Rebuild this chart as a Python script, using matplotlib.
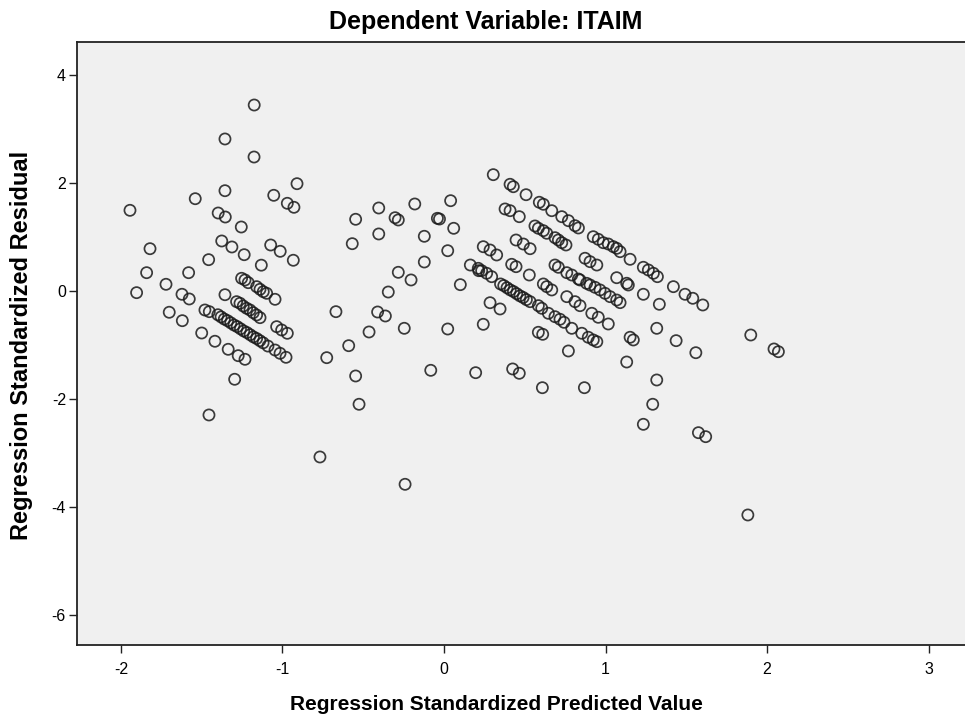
import matplotlib
matplotlib.use("Agg")
import matplotlib.pyplot as plt
import numpy as np

# ---- data (standardized predicted value, standardized residual) ----
left_pred = [-1.175, -1.356, -1.176, -0.910, -1.356, -1.540, -1.054, -0.970, -0.929, -1.944,
             -1.398, -1.354, -1.255, -1.820, -1.376, -1.313, -1.237, -1.457, -1.073, -1.014,
             -0.933, -1.131, -1.841, -1.581, -1.903, -1.721, -1.622, -1.577, -1.356, -1.701,
             -1.620, -1.500, -1.418, -1.336, -1.274, -1.232, -1.296, -1.455,
             -1.253, -1.232, -1.212, -1.160, -1.139, -1.119, -1.098, -1.046,
             -1.284, -1.263, -1.243, -1.222, -1.201, -1.181, -1.160, -1.139, -1.036, -1.005, -0.970,
             -1.480, -1.453, -1.40, -1.38, -1.36, -1.34, -1.32, -1.30, -1.28, -1.26, -1.24, -1.22,
             -1.20, -1.18, -1.16, -1.14, -1.12, -1.09, -1.046, -1.015, -0.978]
left_resid = [3.444, 2.815, 2.481, 1.987, 1.857, 1.709, 1.772, 1.624, 1.550, 1.494,
              1.444, 1.370, 1.185, 0.783, 0.926, 0.815, 0.672, 0.580, 0.852, 0.735,
              0.569, 0.478, 0.339, 0.339, -0.031, 0.124, -0.061, -0.148, -0.069, -0.394,
              -0.550, -0.778, -0.931, -1.080, -1.198, -1.265, -1.635, -2.296,
              0.235, 0.204, 0.154, 0.080, 0.031, -0.013, -0.043, -0.154,
              -0.198, -0.228, -0.278, -0.320, -0.352, -0.402, -0.444, -0.494, -0.661, -0.722, -0.783,
              -0.352, -0.383, -0.44, -0.48, -0.52, -0.55, -0.59, -0.63, -0.66, -0.70, -0.74, -0.77,
              -0.81, -0.85, -0.88, -0.92, -0.96, -1.02, -1.093, -1.154, -1.228]

mid_pred = [-0.547, -0.404, -0.303, -0.283, -0.181, 0.041, -0.041, -0.028, 0.060, -0.122,
            0.023, -0.404, -0.568, -0.122, 0.163, 0.215, -0.283, -0.204, 0.101, -0.345,
            -0.669, -0.411, -0.363, -0.246, 0.023, -0.464, -0.590, -0.726, -0.547, -0.082,
            0.196, -0.526, -0.768, -0.241]
mid_resid = [1.328, 1.537, 1.357, 1.315, 1.611, 1.672, 1.346, 1.333, 1.161, 1.013,
             0.746, 1.056, 0.876, 0.537, 0.481, 0.376, 0.346, 0.204, 0.117, -0.019,
             -0.383, -0.389, -0.463, -0.691, -0.704, -0.759, -1.013, -1.235, -1.574, -1.469,
             -1.513, -2.098, -3.074, -3.580]

right_pred = [0.305, 0.409, 0.429, 0.508, 0.590, 0.615, 0.667, 0.729, 0.770, 0.811, 0.832,
              0.924, 0.955, 0.986, 1.017, 1.048, 1.069, 1.090, 1.152, 1.234, 1.265, 1.296, 1.321,
              1.420, 1.492, 1.540, 1.602,
              0.378, 0.409, 0.466, 0.563, 0.584, 0.615, 0.636, 0.687, 0.708, 0.729, 0.755,
              0.873, 0.904, 0.946, 1.069, 1.131, 1.141, 1.234, 1.333,
              0.243, 0.285, 0.326, 0.446, 0.491, 0.533, 0.212, 0.233, 0.264, 0.295,
              0.419, 0.446, 0.528, 0.687, 0.708, 0.760, 0.791, 0.832,
              0.842, 0.883, 0.904, 0.935, 0.966, 0.997, 1.028, 1.069, 1.090,
              0.35, 0.37, 0.39, 0.41, 0.43, 0.45, 0.47, 0.49, 0.51, 0.533,
              0.615, 0.636, 0.667, 0.760, 0.811, 0.842, 0.285, 0.347,
              0.584, 0.605, 0.646, 0.687, 0.718, 0.743, 0.915, 0.955, 1.017, 0.243,
              0.584, 0.611, 0.791, 0.853, 0.893, 0.924, 0.946, 0.770,
              0.425, 0.466, 0.609, 0.869,
              1.152, 1.172, 1.317, 1.437, 1.559, 1.131, 1.317, 1.292, 1.234, 1.575, 1.620,
              1.899, 2.043, 2.070, 1.881]
right_resid = [2.154, 1.976, 1.931, 1.783, 1.643, 1.606, 1.487, 1.376, 1.302, 1.209, 1.167,
               1.005, 0.957, 0.894, 0.870, 0.821, 0.790, 0.728, 0.587, 0.439, 0.389, 0.328, 0.265,
               0.080, -0.061, -0.135, -0.259,
               1.519, 1.487, 1.376, 1.204, 1.161, 1.117, 1.069, 0.987, 0.944, 0.894, 0.852,
               0.606, 0.543, 0.481, 0.246, 0.143, 0.111, -0.061, -0.246,
               0.820, 0.759, 0.667, 0.944, 0.870, 0.783, 0.420, 0.376, 0.328, 0.265,
               0.494, 0.450, 0.296, 0.481, 0.439, 0.339, 0.296, 0.222,
               0.204, 0.142, 0.111, 0.068, 0.019, -0.043, -0.105, -0.167, -0.216,
               0.13, 0.10, 0.06, 0.02, -0.01, -0.05, -0.09, -0.12, -0.16, -0.198,
               0.130, 0.080, 0.019, -0.105, -0.198, -0.272, -0.217, -0.333,
               -0.272, -0.320, -0.413, -0.476, -0.524, -0.580, -0.413, -0.487, -0.611, -0.617,
               -0.765, -0.802, -0.691, -0.783, -0.857, -0.907, -0.939, -1.111,
               -1.444, -1.524, -1.791, -1.791,
               -0.857, -0.907, -0.691, -0.920, -1.143, -1.315, -1.648, -2.098, -2.469, -2.624, -2.698,
               -0.815, -1.074, -1.124, -4.148]

x_ticks = [-2, -1, 0, 1, 2, 3]
y_ticks = [4, 2, 0, -2, -4, -6]

title = "Dependent Variable: ITAIM"
xlabel = "Regression Standardized Predicted Value"
ylabel = "Regression Standardized Residual"

# ---- figure ----
plt.rcParams['font.family'] = ['Liberation Sans', 'DejaVu Sans']
W, H = 965, 718
fig = plt.figure(figsize=(W / 100, H / 100), dpi=100)
fig.patch.set_facecolor('white')

ax = fig.add_axes([77 / W, (H - 645) / H, (W - 77) / W + 0.01, (645 - 42) / H])
ax.set_facecolor('#F0F0F0')

xs = np.concatenate([left_pred, mid_pred, right_pred])
ys = np.concatenate([left_resid, mid_resid, right_resid])
ax.scatter(xs, ys, s=64, facecolors='none', edgecolors='#1a1a1a', linewidths=1.25, alpha=0.85, zorder=3)

ax.set_xlim(-2.272, 3.285)
ax.set_ylim(-6.556, 4.611)
ax.set_xticks(x_ticks)
ax.set_yticks(y_ticks)
ax.set_xticklabels([str(t) for t in x_ticks])
ax.set_yticklabels([str(t) for t in y_ticks])
ax.tick_params(axis='both', direction='out', length=6, width=1.0, color='#222222',
               labelsize=11.5, labelcolor='black')
ax.tick_params(axis='x', pad=6)
ax.tick_params(axis='y', pad=2)

for side in ['left', 'bottom', 'top']:
    ax.spines[side].set_color('#222222')
    ax.spines[side].set_linewidth(1.3)
ax.spines['right'].set_visible(False)

fig.text(486 / W, 1 - 22 / H, title, ha='center', va='center', fontsize=18, fontweight='bold')
fig.text(496 / W, 1 - 705 / H, xlabel, ha='center', va='center', fontsize=15, fontweight='bold')
fig.text(22 / W, 1 - 345 / H, ylabel, ha='center', va='center', rotation=90, fontsize=17, fontweight='bold')

fig.savefig('out.png', dpi=100, facecolor='white')
